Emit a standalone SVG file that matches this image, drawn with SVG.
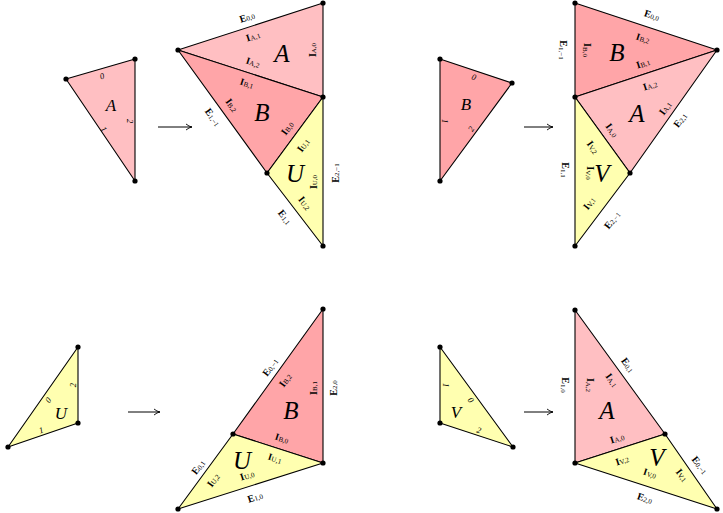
<svg xmlns="http://www.w3.org/2000/svg" width="723" height="513" viewBox="0 0 723 513">
<style>
.a{fill:#ffbfc2;stroke:#000;stroke-width:1.1;stroke-linejoin:round}
.b{fill:#ffa5a8;stroke:#000;stroke-width:1.1;stroke-linejoin:round}
.y{fill:#ffffb0;stroke:#000;stroke-width:1.1;stroke-linejoin:round}
text{font-family:'Liberation Serif','DejaVu Serif','Times New Roman',serif;text-anchor:middle;dominant-baseline:central;fill:#000}
.l{font-size:10px;font-weight:bold}
.l tspan{font-size:7px;font-weight:normal}
.big{font-size:25px;font-style:italic}
.sm{font-size:17px;font-style:italic}
.d{font-size:8.5px;font-style:italic}
.arr{stroke:#000;stroke-width:1;fill:none}
</style>
<defs><marker id="ah" markerWidth="8" markerHeight="8" refX="7" refY="4" orient="auto" markerUnits="userSpaceOnUse"><path d="M1,1 Q4,3.5 7,4 Q4,4.5 1,7" fill="none" stroke="#000" stroke-width="0.9"/></marker></defs>
<g id="connectors">
<line class="arr" x1="158" y1="127" x2="192" y2="127" marker-end="url(#ah)"/>
<line class="arr" x1="524" y1="127" x2="553" y2="127" marker-end="url(#ah)"/>
<line class="arr" x1="128" y1="412" x2="160" y2="412" marker-end="url(#ah)"/>
<line class="arr" x1="524" y1="412" x2="553" y2="412" marker-end="url(#ah)"/>
</g>
<g id="smallA">
<polygon class="a" points="66,79 135,59 135,181"/>
<text class="sm" x="111" y="105">A</text>
<text class="d" transform="translate(102,76) rotate(-16)">0</text>
<text class="d" transform="translate(104,129) rotate(56)">1</text>
<text class="d" transform="translate(130,121) rotate(90)">2</text>
</g>
<g id="bigTL">
<polygon class="a" points="323,3 178,50 323,97"/>
<polygon class="b" points="178,50 323,97 267,173"/>
<polygon class="y" points="323,97 267,173 323,246"/>
<text class="big" x="282" y="53">A</text>
<text class="big" x="262" y="112">B</text>
<text class="big" x="295" y="173">U</text>
<text class="l" transform="translate(247,17) rotate(-18)">E<tspan dy="2">0,0</tspan></text>
<text class="l" transform="translate(253,36) rotate(-18)">I<tspan dy="2">A,1</tspan></text>
<text class="l" transform="translate(253,62) rotate(18)">I<tspan dy="2">A,2</tspan></text>
<text class="l" transform="translate(247,83) rotate(18)">I<tspan dy="2">B,1</tspan></text>
<text class="l" transform="translate(312,50) rotate(-90)">I<tspan dy="2">A,0</tspan></text>
<text class="l" transform="translate(232,105) rotate(54)">I<tspan dy="2">B,2</tspan></text>
<text class="l" transform="translate(213,117) rotate(54)">E<tspan dy="2">1,−1</tspan></text>
<text class="l" transform="translate(287,128) rotate(-54)">I<tspan dy="2">B,0</tspan></text>
<text class="l" transform="translate(303,145) rotate(-54)">I<tspan dy="2">U,1</tspan></text>
<text class="l" transform="translate(313,182) rotate(-90)">I<tspan dy="2">U,0</tspan></text>
<text class="l" transform="translate(335,173) rotate(-90)">E<tspan dy="2">2,−1</tspan></text>
<text class="l" transform="translate(305,203) rotate(52)">I<tspan dy="2">U,2</tspan></text>
<text class="l" transform="translate(285,217) rotate(52)">E<tspan dy="2">1,1</tspan></text>
</g>
<g id="smallB">
<polygon class="b" points="440,59 512,83 440,181"/>
<text class="sm" x="466" y="104">B</text>
<text class="d" transform="translate(474,77) rotate(18)">0</text>
<text class="d" transform="translate(445,121) rotate(90)">1</text>
<text class="d" transform="translate(471,129) rotate(-59)">2</text>
</g>
<g id="bigTR">
<polygon class="b" points="575,3 717,50 575,97"/>
<polygon class="a" points="575,97 717,50 630,173"/>
<polygon class="y" points="575,97 630,173 575,246"/>
<text class="big" x="617" y="52">B</text>
<text class="big" x="637" y="113">A</text>
<text class="big" x="602" y="173">V</text>
<text class="l" transform="translate(652,15) rotate(18)">E<tspan dy="2">0,0</tspan></text>
<text class="l" transform="translate(643,38) rotate(18)">I<tspan dy="2">B,2</tspan></text>
<text class="l" transform="translate(587,50) rotate(90)">I<tspan dy="2">B,0</tspan></text>
<text class="l" transform="translate(563,50) rotate(90)">E<tspan dy="2">1,−1</tspan></text>
<text class="l" transform="translate(643,63) rotate(-18)">I<tspan dy="2">B,1</tspan></text>
<text class="l" transform="translate(650,85) rotate(-18)">I<tspan dy="2">A,2</tspan></text>
<text class="l" transform="translate(665,108) rotate(-54)">I<tspan dy="2">A,1</tspan></text>
<text class="l" transform="translate(680,120) rotate(-54)">E<tspan dy="2">2,1</tspan></text>
<text class="l" transform="translate(612,130) rotate(54)">I<tspan dy="2">A,0</tspan></text>
<text class="l" transform="translate(593,147) rotate(54)">I<tspan dy="2">V,2</tspan></text>
<text class="l" transform="translate(590,173) rotate(90)">I<tspan dy="2">V,0</tspan></text>
<text class="l" transform="translate(565,170) rotate(90)">E<tspan dy="2">1,1</tspan></text>
<text class="l" transform="translate(589,203) rotate(-52)">I<tspan dy="2">V,1</tspan></text>
<text class="l" transform="translate(612,220) rotate(-52)">E<tspan dy="2">2,−1</tspan></text>
</g>
<g id="smallU">
<polygon class="y" points="78,347 78,423 8,447"/>
<text class="sm" x="61" y="413">U</text>
<text class="d" transform="translate(73,385) rotate(-90)">2</text>
<text class="d" transform="translate(48,400) rotate(-54)">0</text>
<text class="d" transform="translate(41,430) rotate(-18)">1</text>
</g>
<g id="bigBL">
<polygon class="b" points="323,309 233,434 323,463"/>
<polygon class="y" points="233,434 323,463 178,509"/>
<text class="big" x="291" y="410">B</text>
<text class="big" x="242" y="460">U</text>
<text class="l" transform="translate(270,367) rotate(-54)">E<tspan dy="2">0,−1</tspan></text>
<text class="l" transform="translate(285,380) rotate(-54)">I<tspan dy="2">B,2</tspan></text>
<text class="l" transform="translate(313,388) rotate(-90)">I<tspan dy="2">B,1</tspan></text>
<text class="l" transform="translate(333,388) rotate(-90)">E<tspan dy="2">2,0</tspan></text>
<text class="l" transform="translate(282,438) rotate(18)">I<tspan dy="2">B,0</tspan></text>
<text class="l" transform="translate(275,458) rotate(18)">I<tspan dy="2">U,1</tspan></text>
<text class="l" transform="translate(198,467) rotate(-54)">E<tspan dy="2">0,1</tspan></text>
<text class="l" transform="translate(213,480) rotate(-54)">I<tspan dy="2">U,2</tspan></text>
<text class="l" transform="translate(247,475) rotate(-18)">I<tspan dy="2">U,0</tspan></text>
<text class="l" transform="translate(255,497) rotate(-18)">E<tspan dy="2">1,0</tspan></text>
</g>
<g id="smallV">
<polygon class="y" points="440,347 440,423 513,447"/>
<text class="sm" x="456" y="412">V</text>
<text class="d" transform="translate(446,385) rotate(90)">1</text>
<text class="d" transform="translate(471,400) rotate(54)">0</text>
<text class="d" transform="translate(479,430) rotate(18)">2</text>
</g>
<g id="bigBR">
<polygon class="a" points="575,310 665,434 575,463"/>
<polygon class="y" points="575,463 665,434 717,509"/>
<text class="big" x="607" y="410">A</text>
<text class="big" x="657" y="457">V</text>
<text class="l" transform="translate(628,365) rotate(54)">E<tspan dy="2">0,1</tspan></text>
<text class="l" transform="translate(612,380) rotate(54)">I<tspan dy="2">A,1</tspan></text>
<text class="l" transform="translate(590,385) rotate(90)">I<tspan dy="2">A,2</tspan></text>
<text class="l" transform="translate(565,385) rotate(90)">E<tspan dy="2">1,0</tspan></text>
<text class="l" transform="translate(617,438) rotate(-18)">I<tspan dy="2">A,0</tspan></text>
<text class="l" transform="translate(622,460) rotate(-18)">I<tspan dy="2">V,2</tspan></text>
<text class="l" transform="translate(650,473) rotate(18)">I<tspan dy="2">V,0</tspan></text>
<text class="l" transform="translate(682,475) rotate(52)">I<tspan dy="2">V,1</tspan></text>
<text class="l" transform="translate(700,465) rotate(52)">E<tspan dy="2">0,−1</tspan></text>
<text class="l" transform="translate(645,498) rotate(18)">E<tspan dy="2">2,0</tspan></text>
</g>
<g id="dots" fill="#000">
<circle cx="66" cy="79" r="2.6"/><circle cx="135" cy="59" r="2.6"/><circle cx="135" cy="181" r="2.6"/>
<circle cx="323" cy="3" r="2.6"/><circle cx="178" cy="50" r="2.6"/><circle cx="323" cy="97" r="2.6"/><circle cx="267" cy="173" r="2.6"/><circle cx="323" cy="246" r="2.6"/>
<circle cx="440" cy="59" r="2.6"/><circle cx="512" cy="83" r="2.6"/><circle cx="440" cy="181" r="2.6"/>
<circle cx="575" cy="3" r="2.6"/><circle cx="717" cy="50" r="2.6"/><circle cx="575" cy="97" r="2.6"/><circle cx="630" cy="173" r="2.6"/><circle cx="575" cy="246" r="2.6"/>
<circle cx="78" cy="347" r="2.6"/><circle cx="78" cy="423" r="2.6"/><circle cx="8" cy="447" r="2.6"/>
<circle cx="323" cy="309" r="2.6"/><circle cx="233" cy="434" r="2.6"/><circle cx="323" cy="463" r="2.6"/><circle cx="178" cy="509" r="2.6"/>
<circle cx="440" cy="347" r="2.6"/><circle cx="440" cy="423" r="2.6"/><circle cx="513" cy="447" r="2.6"/>
<circle cx="575" cy="310" r="2.6"/><circle cx="665" cy="434" r="2.6"/><circle cx="575" cy="463" r="2.6"/><circle cx="717" cy="509" r="2.6"/>
</g>
</svg>
